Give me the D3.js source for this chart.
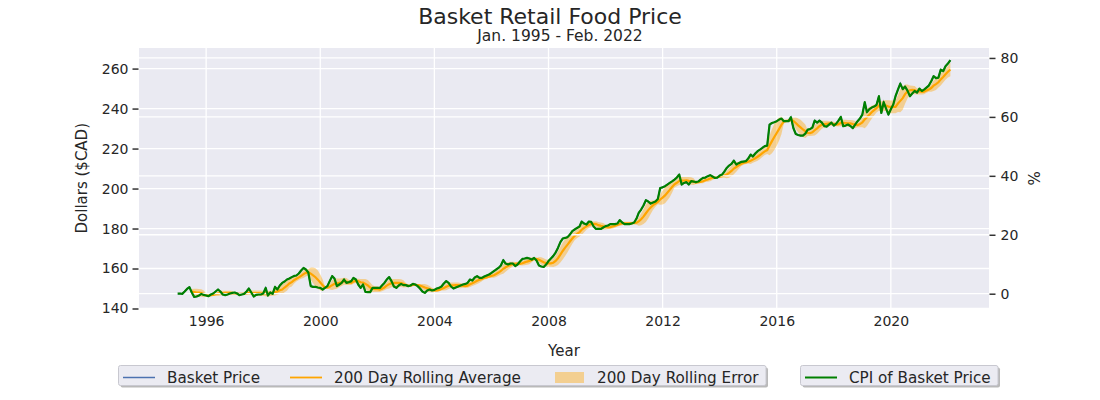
<!DOCTYPE html>
<html>
<head>
<meta charset="utf-8">
<script src="https://cdn.jsdelivr.net/npm/d3@7"></script>
<style>
  html, body { margin: 0; padding: 0; background: #ffffff; }
  svg { display: block; font-family: "DejaVu Sans", sans-serif; }
</style>
</head>
<body>
<svg id="chart" width="1100" height="400"></svg>
<script>
// ---------------- DATA ----------------
const chartTitle = "Basket Retail Food Price";
const chartSubtitle = "Jan. 1995 - Feb. 2022";
const startYear = 1995;           // first month: January 1995, monthly series
const basketPrice = [
  // 1995
  147.4, 147.5, 147.3, 148.5, 149.8, 150.7, 148.0, 145.8, 146.0, 146.5, 147.3, 146.8,
  // 1996
  146.5, 146.2, 147.0, 147.5, 148.5, 149.5, 148.5, 147.0, 146.7, 147.0, 147.5, 147.8,
  // 1997
  148.0, 147.5, 146.7, 147.0, 147.3, 148.5, 150.0, 148.0, 146.0, 146.8, 147.0, 147.0,
  // 1998
  147.5, 150.3, 146.5, 148.0, 147.3, 150.8, 149.5, 151.5, 152.8, 153.5, 154.5, 155.0,
  // 1999
  155.7, 156.3, 156.5, 157.5, 159.0, 160.3, 159.5, 158.0, 151.2, 150.8, 150.8, 150.5,
  // 2000
  150.3, 149.5, 150.3, 151.2, 153.7, 156.2, 155.0, 151.2, 152.0, 152.8, 154.5, 152.8,
  // 2001
  153.2, 153.7, 155.3, 154.5, 152.0, 150.3, 152.0, 148.3, 148.2, 148.2, 150.3, 150.3,
  // 2002
  150.3, 150.3, 151.5, 152.8, 154.5, 155.7, 153.7, 151.0, 150.3, 151.5, 152.3, 151.7,
  // 2003
  151.7, 151.2, 151.5, 152.3, 152.0, 151.2, 150.0, 148.5, 147.8, 149.0, 149.5, 149.0,
  // 2004
  149.3, 150.0, 150.3, 151.0, 152.5, 153.7, 152.8, 151.0, 150.0, 150.5, 151.0, 151.5,
  // 2005
  152.0, 152.3, 152.8, 154.5, 154.0, 155.5, 156.2, 155.3, 155.3, 156.0, 156.5, 157.0,
  // 2006
  157.8, 158.7, 159.5, 160.3, 161.5, 164.2, 162.5, 162.0, 162.5, 162.5, 161.2, 162.0,
  // 2007
  163.5, 164.8, 165.0, 165.3, 165.0, 164.5, 165.3, 164.0, 161.5, 161.0, 160.8, 162.0,
  // 2008
  163.7, 165.0, 166.2, 168.0, 170.3, 173.2, 175.0, 175.3, 175.7, 177.0, 178.7, 179.5,
  // 2009
  180.3, 181.0, 183.5, 182.5, 182.0, 183.5, 183.3, 181.0, 179.8, 179.8, 179.8, 180.5,
  // 2010
  181.2, 181.5, 182.2, 182.2, 182.2, 182.5, 184.2, 183.0, 182.2, 182.2, 182.2, 182.5,
  // 2011
  183.0, 185.0, 187.8, 189.5, 191.5, 194.2, 193.5, 192.5, 193.0, 193.5, 194.8, 200.3,
  // 2012
  200.6, 201.2, 202.0, 202.8, 203.6, 204.5, 205.5, 207.0, 202.0, 202.8, 203.2, 202.0,
  // 2013
  203.7, 203.5, 203.2, 203.5, 204.5, 205.3, 205.5, 206.2, 206.7, 206.0, 205.3, 205.5,
  // 2014
  206.5, 207.0, 208.5, 210.3, 211.5, 212.3, 214.0, 212.0, 212.7, 213.3, 213.5, 213.7,
  // 2015
  215.0, 217.0, 216.0, 217.5, 218.7, 219.5, 220.3, 221.2, 221.5, 232.0, 232.8, 233.2,
  // 2016
  233.7, 234.5, 235.0, 233.7, 233.7, 233.7, 235.7, 230.3, 227.3, 226.8, 226.5, 226.5,
  // 2017
  227.5, 229.5, 229.7, 230.5, 234.0, 233.0, 234.0, 233.0, 231.2, 231.0, 232.0, 233.0,
  // 2018
  231.5, 232.5, 234.0, 235.8, 231.2, 231.5, 232.0, 231.3, 230.2, 232.0, 233.7, 235.0,
  // 2019
  237.0, 243.2, 238.2, 239.7, 240.5, 241.0, 241.8, 246.2, 237.8, 243.2, 240.0, 237.0,
  // 2020
  239.7, 242.0, 246.2, 249.5, 252.5, 249.7, 251.0, 249.0, 246.2, 247.5, 248.8, 248.0,
  // 2021
  250.0, 248.8, 249.5, 250.5, 251.5, 253.7, 256.2, 255.2, 255.5, 259.5, 258.7, 261.2,
  // 2022
  262.5, 264.2
];
const rollingWindowMonths = 7;            // ~200 days
const yearTicks = [1996, 2000, 2004, 2008, 2012, 2016, 2020];
const dollarTicks = [140, 160, 180, 200, 220, 240, 260];
const percentTicks = [0, 20, 40, 60, 80];
const dollarDomain = [140, 270.3];
const legendLeftLabels = ["Basket Price", "200 Day Rolling Average", "200 Day Rolling Error"];
const legendRightLabels = ["CPI of Basket Price"];

// ---------------- DERIVED ----------------
const dates = basketPrice.map((_, i) => new Date(Date.UTC(startYear, i, 1)));
const base = basketPrice[0];
const cpi = basketPrice.map(v => (v / base - 1) * 100);
const rolling = [];
for (let i = rollingWindowMonths - 1; i < basketPrice.length; i++) {
  const win = basketPrice.slice(i - rollingWindowMonths + 1, i + 1);
  rolling.push({ date: dates[i], mean: d3.mean(win), sd: d3.deviation(win) });
}

// ---------------- LAYOUT ----------------
const L = 139, R = 989, T = 48, B = 308.5;
const textColor = "#262626";
const svg = d3.select("#chart");

const t0 = dates[0], t1 = dates[dates.length - 1];
const pad = (t1 - t0) * 0.05;
const x = d3.scaleUtc().domain([new Date(+t0 - pad), new Date(+t1 + pad)]).range([L, R]);
const yL = d3.scaleLinear().domain(dollarDomain).range([B, T]);
const yR = d3.scaleLinear().domain(dollarDomain.map(v => (v / base - 1) * 100)).range([B, T]);
const yearDate = yr => new Date(Date.UTC(yr, 0, 1));

// background
svg.append("rect").attr("x", L).attr("y", T).attr("width", R - L).attr("height", B - T).attr("fill", "#EAEAF2");

const grid = svg.append("g").attr("stroke", "#ffffff").attr("stroke-width", 1.3);
grid.selectAll("line.v").data(yearTicks).enter().append("line")
  .attr("x1", d => x(yearDate(d))).attr("x2", d => x(yearDate(d)))
  .attr("y1", T).attr("y2", B);
grid.selectAll("line.hl").data(dollarTicks).enter().append("line")
  .attr("x1", L).attr("x2", R).attr("y1", d => yL(d)).attr("y2", d => yL(d));

// left axis content
const area = d3.area().x(d => x(d.date)).y0(d => yL(d.mean - d.sd)).y1(d => yL(d.mean + d.sd));
const lineL = d3.line().x((d, i) => x(dates[i])).y(d => yL(d));
svg.append("path").datum(basketPrice).attr("d", lineL).attr("fill", "none")
  .attr("stroke", "#4C72B0").attr("stroke-width", 1.5);
svg.append("path").datum(rolling)
  .attr("d", d3.line().x(d => x(d.date)).y(d => yL(d.mean)))
  .attr("fill", "none").attr("stroke", "orange").attr("stroke-width", 2.2);
svg.append("path").datum(rolling).attr("d", area).attr("fill", "orange").attr("fill-opacity", 0.4);

// right horizontal grid (twin axis)
svg.append("g").attr("stroke", "#ffffff").attr("stroke-width", 1.3)
  .selectAll("line").data(percentTicks).enter().append("line")
  .attr("x1", L).attr("x2", R).attr("y1", d => yR(d)).attr("y2", d => yR(d));

// green CPI line
svg.append("path").datum(cpi)
  .attr("d", d3.line().x((d, i) => x(dates[i])).y(d => yR(d)))
  .attr("fill", "none").attr("stroke", "green").attr("stroke-width", 2.2)
  .attr("stroke-linejoin", "round");

// axes
const axL = d3.axisLeft(yL).tickValues(dollarTicks).tickSize(6).tickPadding(4).tickFormat(d3.format("d"));
const gL = svg.append("g").attr("transform", `translate(${L - 0.5},0)`).call(axL);
const axR = d3.axisRight(yR).tickValues(percentTicks).tickSize(6).tickPadding(5).tickFormat(d3.format("d"));
const gR = svg.append("g").attr("transform", `translate(${R + 0.5},0)`).call(axR);
const axB = d3.axisBottom(x).tickValues(yearTicks.map(yearDate)).tickSize(0).tickPadding(8)
  .tickFormat(d3.utcFormat("%Y"));
const gB = svg.append("g").attr("transform", `translate(0,${B})`).call(axB);
[gL, gR, gB].forEach(g => {
  g.select(".domain").remove();
  g.selectAll("line").attr("stroke", "#333333").attr("stroke-width", 1.5);
  g.selectAll("text").attr("fill", textColor).style("font-size", "14px")
    .style("font-family", "DejaVu Sans, sans-serif");
});

// titles and labels
svg.append("text").attr("x", 550).attr("y", 24).attr("text-anchor", "middle")
  .attr("fill", textColor).style("font-size", "22px").text(chartTitle);
svg.append("text").attr("x", 560).attr("y", 41).attr("text-anchor", "middle")
  .attr("fill", textColor).style("font-size", "15.5px").text(chartSubtitle);
svg.append("text").attr("x", (L + R) / 2).attr("y", 356).attr("text-anchor", "middle")
  .attr("fill", textColor).style("font-size", "15px").text("Year");
svg.append("text").attr("transform", `translate(87,${(T + B) / 2}) rotate(-90)`)
  .attr("text-anchor", "middle").attr("fill", textColor).style("font-size", "15px").text("Dollars ($CAD)");
svg.append("text").attr("transform", `translate(1040,${(T + B) / 2}) rotate(-90)`)
  .attr("text-anchor", "middle").attr("fill", textColor).style("font-size", "15px").text("%");

// legends
function legendBox(x0, x1, y0, y1) {
  svg.append("rect").attr("x", x0 + 2).attr("y", y0 + 2).attr("width", x1 - x0).attr("height", y1 - y0)
    .attr("rx", 2).attr("fill", "#808080").attr("fill-opacity", 0.55);
  svg.append("rect").attr("x", x0).attr("y", y0).attr("width", x1 - x0).attr("height", y1 - y0)
    .attr("rx", 2).attr("fill", "#EBEBF2").attr("stroke", "#c8c8d0").attr("stroke-width", 1);
}
const ly = 377.5;
const legendFont = "15.2px";
legendBox(118.5, 766, 365.5, 385.5);
svg.append("line").attr("x1", 123).attr("x2", 155).attr("y1", ly).attr("y2", ly)
  .attr("stroke", "#4C72B0").attr("stroke-width", 1.5);
svg.append("text").attr("x", 167).attr("y", ly + 5.5).attr("fill", textColor)
  .style("font-size", legendFont).text(legendLeftLabels[0]);
svg.append("line").attr("x1", 290).attr("x2", 322).attr("y1", ly).attr("y2", ly)
  .attr("stroke", "orange").attr("stroke-width", 1.8);
svg.append("text").attr("x", 334).attr("y", ly + 5.5).attr("fill", textColor)
  .style("font-size", legendFont).text(legendLeftLabels[1]);
svg.append("rect").attr("x", 555).attr("y", ly - 5.5).attr("width", 29).attr("height", 11)
  .attr("fill", "orange").attr("fill-opacity", 0.4);
svg.append("text").attr("x", 597).attr("y", ly + 5.5).attr("fill", textColor)
  .style("font-size", legendFont).text(legendLeftLabels[2]);

legendBox(800.5, 998, 365.5, 385.5);
svg.append("line").attr("x1", 805).attr("x2", 837).attr("y1", ly).attr("y2", ly)
  .attr("stroke", "green").attr("stroke-width", 2);
svg.append("text").attr("x", 849).attr("y", ly + 5.5).attr("fill", textColor)
  .style("font-size", legendFont).text(legendRightLabels[0]);
</script>
</body>
</html>
